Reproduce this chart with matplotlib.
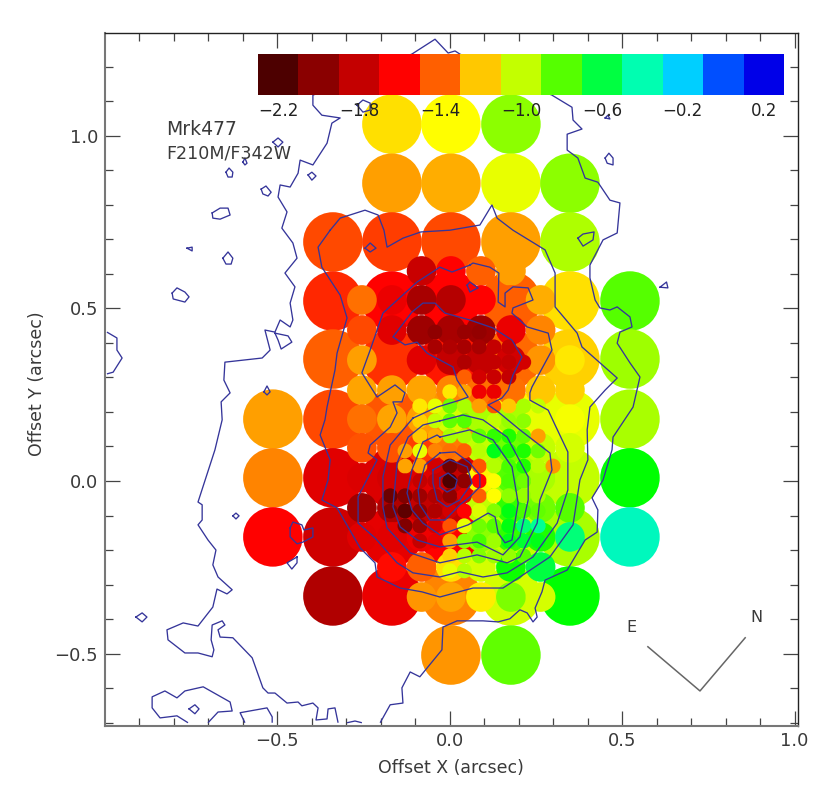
import numpy as np
import matplotlib
matplotlib.use("Agg")
import matplotlib.pyplot as plt
from matplotlib.colors import LinearSegmentedColormap, Normalize
from matplotlib.ticker import MultipleLocator

n = np.nan
cbar_levels = [-2.2, -2.0, -1.8, -1.6, -1.4, -1.2, -1.0, -0.8, -0.6, -0.4, -0.2, 0.0, 0.2]
cbar_colors = ['#4d0000', '#8b0000', '#c40000', '#ff0000', '#ff6000', '#ffc800', '#c4ff00',
               '#55ff00', '#00ff40', '#00ffb0', '#00d0ff', '#0050ff', '#0000e8']
cbar_labels = ['\u22122.2', '\u22121.8', '\u22121.4', '\u22121.0', '\u22120.6', '\u22120.2', '0.2']
extra_levels = [-1.08, -0.68]
extra_colors = ['#ffff00', '#00ff00']

big_x = [-0.512, -0.338, -0.167, 0.004, 0.178, 0.349, 0.523]
big_y = [1.033, 0.862, 0.692, 0.521, 0.353, 0.179, 0.009, -0.162, -0.333, -0.504]
big_vals = [
    [n, n, -1.15, -1.08, -0.90, n, n],
    [n, n, -1.28, -1.25, -1.05, -0.90, n],
    [n, -1.45, -1.47, -1.45, -1.28, -0.96, n],
    [n, -1.52, -1.60, -1.60, -1.40, -1.15, -0.80],
    [n, -1.40, -1.50, -1.55, -1.38, -1.18, -0.93],
    [-1.28, -1.45, -1.42, -1.30, -1.10, -1.05, -0.95],
    [-1.33, -1.70, -1.72, -1.70, -0.95, -1.00, -0.68],
    [-1.60, -1.76, -1.68, -1.60, -1.00, -0.95, -0.37],
    [n, -1.87, -1.67, -1.33, -1.02, -0.68, n],
    [n, n, n, -1.30, -0.82, n, n],
]

mid_x = [-0.254, -0.167, -0.081, 0.004, 0.091, 0.178, 0.264, 0.349]
mid_y = [0.608, 0.524, 0.437, 0.350, 0.263, 0.179, 0.096, 0.009, -0.078, -0.162, -0.249, -0.336]
mid_vals = [
    [n, n, -1.78, -1.60, -1.40, -1.28, n, n],
    [-1.37, -1.67, -1.90, -1.85, -1.60, -1.40, -1.25, n],
    [-1.45, -1.70, -1.93, -1.90, -1.93, -1.67, -1.33, n],
    [-1.28, -1.50, -1.70, -1.80, -1.80, -1.75, -1.30, -1.13],
    [-1.27, -1.28, -1.27, -1.33, -1.37, -1.37, -1.20, -1.18],
    [-1.37, -1.27, -1.28, -1.02, -0.95, -0.95, -1.05, -1.07],
    [-1.43, -1.43, -1.47, -1.35, -1.00, -0.85, -1.00, -1.02],
    [-1.72, -1.75, -1.70, -1.80, -1.10, -0.80, -0.95, -1.00],
    [-1.93, -1.87, -1.80, -1.80, -1.00, -0.75, -0.85, -0.80],
    [-1.70, -1.70, -1.65, -1.60, -0.90, -0.75, -0.72, -0.50],
    [n, -1.58, -1.40, -1.15, -1.02, -0.70, -0.60, n],
    [n, n, -1.30, -1.27, -1.12, -0.87, -1.02, n],
]

small_x = [-0.172, -0.129, -0.086, -0.042, 0.001, 0.043, 0.086, 0.129, 0.172, 0.215, 0.257, 0.300]
small_y = [0.431, 0.388, 0.344, 0.301, 0.258, 0.217, 0.174, 0.130, 0.087, 0.043, 0.0,
           -0.043, -0.087, -0.130, -0.174, -0.217, -0.260]
small_vals = [
    [n, n, n, -1.98, -1.90, -1.95, -1.97, n, n, n, n, n],
    [n, n, n, -1.90, -1.87, -1.90, -1.90, -1.80, -1.80, n, n, n],
    [n, n, n, n, -1.80, -1.87, -1.80, -1.80, -1.80, -1.75, n, n],
    [n, n, n, n, n, -1.40, -1.75, -1.78, -1.80, n, n, n],
    [n, n, n, n, -1.13, -1.27, -1.65, -1.67, n, n, n, n],
    [n, n, -1.13, -1.05, -0.85, -0.95, -1.28, -1.43, -1.20, -0.95, -1.00, n],
    [n, n, -1.18, -1.00, -0.82, -0.80, -0.95, -1.00, -0.92, -0.90, n, n],
    [n, n, -1.20, -1.25, -0.95, -0.95, -0.82, -0.75, -0.72, -0.82, -1.28, n],
    [n, -1.28, -1.05, -1.33, -1.37, -1.40, -0.98, -0.65, -0.72, -0.72, -0.85, n],
    [n, -1.27, -1.28, -1.75, -2.08, -1.98, -1.42, -0.97, -0.78, -0.72, -0.98, -1.30],
    [n, -1.75, -1.80, -1.80, -2.20, -1.98, -1.60, -1.08, -0.78, -0.85, -0.95, n],
    [-2.10, -2.03, -1.93, -1.87, -1.98, -1.70, -1.40, -1.08, -0.90, -0.92, -0.95, n],
    [-2.03, -2.14, -1.98, -1.87, -1.75, -1.60, -1.03, -0.88, -0.66, -0.78, -0.82, n],
    [n, -2.03, -1.93, -1.75, -1.43, -1.05, -0.85, -0.80, -0.66, -0.50, -0.45, n],
    [n, n, -1.80, -1.68, -1.28, -0.88, -0.78, -0.93, -0.65, -0.62, -0.65, n],
    [n, n, n, n, -1.18, -0.98, -0.88, -0.93, -0.92, -0.80, n, n],
    [n, n, n, n, -1.05, -0.97, n, n, n, n, n, n],
]

closed_contours = [
    [(-0.028,0.127),(0.059,0.148),(0.126,0.119),(0.181,0.041),(0.199,-0.064),(0.181,-0.171),(0.161,-0.179),(0.141,-0.151),(0.132,-0.104),(0.112,-0.093),(0.054,-0.127),(-0.028,-0.156),(-0.077,-0.122),(-0.109,-0.084),(-0.123,-0.035),(-0.109,0.032),(-0.077,0.113),(-0.036,0.133)],
    [(-0.028,0.081),(0.016,0.084),(0.059,0.052),(0.088,0.017),(0.088,-0.017),(0.059,-0.046),(0.030,-0.069),(-0.013,-0.113),(-0.057,-0.113),(-0.086,-0.069),(-0.091,-0.026),(-0.071,0.046)],
    [(-0.048,0.032),(0.001,0.061),(0.051,0.041),(0.065,-0.006),(0.030,-0.055),(-0.007,-0.075),(-0.036,-0.055),(-0.048,-0.006)],
    [(-0.028,0.009),(-0.004,0.023),(0.022,0.003),(0.016,-0.020),(-0.007,-0.032),(-0.028,-0.017)],
    [(-0.028,0.174),(0.039,0.191),(0.097,0.177),(0.167,0.127),(0.228,0.012),(0.228,-0.055),(0.204,-0.162),(0.155,-0.214),(0.080,-0.177),(-0.028,-0.191),(-0.094,-0.171),(-0.143,-0.133),(-0.164,-0.075),(-0.152,0.052),(-0.120,0.127),(-0.077,0.162)],
    [(-0.106,0.182),(-0.036,0.214),(0.030,0.234),(0.054,0.243),(0.022,0.292),(0.010,0.330),(-0.065,0.370),(-0.094,0.402),(-0.129,0.394),(-0.164,0.417),(-0.109,0.489),(-0.077,0.515),(-0.042,0.515),(-0.013,0.486),(0.059,0.466),(0.126,0.443),(0.181,0.408),(0.210,0.359),(0.184,0.307),(0.170,0.263),(0.152,0.240),(0.112,0.220),(0.141,0.200),(0.204,0.148),(0.291,0.081),(0.297,0.032),(0.262,-0.055),(0.254,-0.122),(0.204,-0.220),(0.167,-0.237),(0.080,-0.214),(-0.028,-0.237),(-0.114,-0.208),(-0.181,-0.136),(-0.193,-0.075),(-0.193,0.012),(-0.172,0.104)],
    [(0.059,0.625),(0.007,0.605),(-0.028,0.619),(-0.094,0.576),(-0.193,0.486),(-0.230,0.379),(-0.254,0.313),(-0.210,0.243),(-0.158,0.278),(-0.129,0.255),(-0.138,0.229),(-0.164,0.229),(-0.152,0.197),(-0.172,0.156),(-0.230,0.104),(-0.236,0.081),(-0.210,0.061),(-0.265,-0.046),(-0.265,-0.122),(-0.216,-0.165),(-0.152,-0.237),(-0.106,-0.266),(-0.028,-0.278),(0.030,-0.263),(0.097,-0.278),(0.167,-0.266),(0.242,-0.220),(0.312,-0.122),(0.343,-0.026),(0.343,0.084),(0.306,0.162),(0.286,0.205),(0.233,0.234),(0.233,0.255),(0.239,0.272),(0.297,0.379),(0.286,0.428),(0.225,0.446),(0.181,0.486),(0.184,0.501),(0.242,0.524),(0.228,0.559),(0.184,0.562),(0.161,0.544),(0.161,0.504),(0.141,0.518),(0.143,0.602),(0.117,0.619),(0.068,0.631)],
    [(-0.346,0.726),(-0.317,0.761),(-0.245,0.784),(-0.207,0.770),(-0.190,0.726),(-0.181,0.677),(-0.135,0.703),(-0.083,0.721),(0.001,0.726),(0.088,0.741),(0.123,0.799),(0.138,0.761),(0.184,0.726),(0.277,0.669),(0.306,0.602),(0.306,0.504),(0.370,0.428),(0.384,0.388),(0.486,0.298),(0.451,0.263),(0.407,0.214),(0.399,0.148),(0.401,0.061),(0.378,0.003),(0.358,-0.127),(0.291,-0.220),(0.204,-0.278),(0.155,-0.310),(0.068,-0.310),(-0.028,-0.336),(-0.080,-0.321),(-0.143,-0.310),(-0.210,-0.278),(-0.216,-0.237),(-0.259,-0.194),(-0.326,-0.078),(-0.370,-0.055),(-0.352,0.003),(-0.346,0.061),(-0.375,0.133),(-0.361,0.177),(-0.355,0.214),(-0.332,0.321),(-0.326,0.370),(-0.297,0.472),(-0.317,0.538),(-0.370,0.619),(-0.381,0.677)],
    [(0.372,0.703),(0.387,0.715),(0.419,0.721),(0.416,0.698),(0.387,0.680)],
    [(-0.245,0.674),(-0.230,0.689),(-0.213,0.674),(-0.230,0.663)],
    [(0.610,0.561),(0.629,0.576),(0.633,0.559)],
    [(0.051,0.567),(0.059,0.576),(0.083,0.559),(0.059,0.547)],
    [(0.451,0.935),(0.462,0.949),(0.474,0.935),(0.474,0.915),(0.457,0.920)],
    [(0.451,1.051),(0.459,1.059),(0.465,1.048)],
    [(-0.512,0.981),(-0.497,0.993),(-0.483,0.981),(-0.497,0.967)],
    [(-0.599,0.923),(-0.593,0.935),(-0.587,0.920),(-0.593,0.915)],
    [(-0.648,0.894),(-0.639,0.906),(-0.628,0.894),(-0.630,0.880),(-0.642,0.880)],
    [(-0.546,0.845),(-0.532,0.854),(-0.517,0.836),(-0.526,0.825),(-0.541,0.831)],
    [(-0.410,0.886),(-0.399,0.894),(-0.387,0.883),(-0.399,0.871)],
    [(-0.268,1.088),(-0.251,1.103),(-0.230,1.094),(-0.230,1.074),(-0.251,1.068)],
    [(-0.688,0.776),(-0.665,0.790),(-0.642,0.790),(-0.636,0.770),(-0.665,0.758),(-0.686,0.761)],
    [(-0.761,0.674),(-0.746,0.677),(-0.746,0.666)],
    [(-0.657,0.645),(-0.642,0.663),(-0.628,0.645),(-0.633,0.628),(-0.648,0.628)],
    [(-0.804,0.544),(-0.790,0.559),(-0.767,0.547),(-0.755,0.533),(-0.767,0.518),(-0.801,0.527)],
    [(-0.506,0.428),(-0.468,0.420),(-0.457,0.402),(-0.488,0.382),(-0.497,0.408)],
    [(-0.538,0.258),(-0.529,0.275),(-0.520,0.258),(-0.529,0.249)],
    [(-0.628,-0.101),(-0.619,-0.093),(-0.610,-0.101),(-0.619,-0.110)],
    [(-0.909,-0.394),(-0.891,-0.382),(-0.877,-0.394),(-0.891,-0.408)],
    [(-0.755,-0.660),(-0.738,-0.648),(-0.726,-0.660),(-0.738,-0.674)],
    [(-0.462,-0.136),(-0.454,-0.119),(-0.428,-0.127),(-0.422,-0.142),(-0.396,-0.136),(-0.396,-0.162),(-0.425,-0.177),(-0.442,-0.182),(-0.462,-0.162)],
    [(-0.442,-0.220),(-0.442,-0.237),(-0.457,-0.255),(-0.471,-0.237)],
]

open_contours = [
    [(0.297,1.117),(0.030,1.236),(0.016,1.245),(-0.004,1.239),(-0.042,1.279),(-0.109,1.236),(-0.396,1.117),(-0.396,1.088),(-0.370,1.059),(-0.317,1.051),(-0.341,1.036),(-0.355,0.978),(-0.396,0.915),(-0.433,0.929),(-0.439,0.891),(-0.462,0.851),(-0.491,0.857),(-0.497,0.822),(-0.471,0.779),(-0.486,0.732),(-0.454,0.689),(-0.442,0.645),(-0.477,0.602),(-0.448,0.562),(-0.462,0.515),(-0.454,0.466),(-0.462,0.446),(-0.491,0.466),(-0.506,0.431),(-0.535,0.437),(-0.520,0.379),(-0.543,0.356),(-0.651,0.344),(-0.654,0.292),(-0.636,0.255),(-0.662,0.229),(-0.659,0.177),(-0.680,0.090),(-0.729,-0.061),(-0.717,-0.069),(-0.717,-0.113),(-0.729,-0.127),(-0.700,-0.171),(-0.677,-0.200),(-0.686,-0.243),(-0.671,-0.278),(-0.630,-0.315),(-0.645,-0.327),(-0.674,-0.313),(-0.686,-0.365),(-0.729,-0.420),(-0.772,-0.411),(-0.819,-0.431),(-0.816,-0.460),(-0.767,-0.498),(-0.729,-0.498),(-0.688,-0.509),(-0.683,-0.489),(-0.691,-0.460),(-0.688,-0.417),(-0.659,-0.405),(-0.651,-0.417),(-0.671,-0.431),(-0.665,-0.452),(-0.628,-0.454),(-0.572,-0.512),(-0.541,-0.599),(-0.526,-0.614),(-0.506,-0.614),(-0.471,-0.643),(-0.439,-0.640),(-0.428,-0.651),(-0.396,-0.643),(-0.381,-0.657),(-0.387,-0.692),(-0.355,-0.689),(-0.352,-0.660),(-0.332,-0.657),(-0.323,-0.700)],
    [(-0.201,-0.700),(-0.172,-0.648),(-0.135,-0.643),(-0.138,-0.599),(-0.114,-0.553),(-0.086,-0.567),(-0.022,-0.489),(-0.019,-0.423),(0.022,-0.405),(0.097,-0.405),(0.141,-0.408),(0.175,-0.399),(0.204,-0.373),(0.225,-0.382),(0.242,-0.408),(0.254,-0.394),(0.248,-0.368),(0.268,-0.321),(0.277,-0.287),(0.341,-0.258),(0.393,-0.171),(0.428,-0.148),(0.430,-0.084),(0.413,-0.049),(0.445,0.003),(0.471,0.090),(0.474,0.127),(0.532,0.214),(0.552,0.301),(0.523,0.342),(0.486,0.399),(0.494,0.431),(0.529,0.446),(0.523,0.475),(0.486,0.504),(0.465,0.495),(0.436,0.501),(0.422,0.524),(0.407,0.588),(0.407,0.625),(0.445,0.698),(0.486,0.718),(0.494,0.805),(0.465,0.813),(0.430,0.865),(0.393,0.877),(0.372,0.935),(0.341,0.958),(0.341,1.004),(0.384,1.019),(0.358,1.045),(0.355,1.082),(0.297,1.117)],
    [(-0.758,-0.700),(-0.790,-0.680),(-0.839,-0.686),(-0.862,-0.657),(-0.862,-0.625),(-0.825,-0.608),(-0.790,-0.628),(-0.767,-0.608),(-0.714,-0.596),(-0.636,-0.640),(-0.630,-0.666),(-0.671,-0.669),(-0.700,-0.700)],
    [(-0.593,-0.700),(-0.607,-0.671),(-0.529,-0.657),(-0.514,-0.683),(-0.514,-0.700)],
    [(-0.297,-0.700),(-0.274,-0.695),(-0.254,-0.700)],
    [(-0.993,0.431),(-0.964,0.414),(-0.964,0.379),(-0.949,0.356),(-0.975,0.315),(-0.993,0.310)],
]

compass_x = [0.575, 0.726, 0.857]
compass_y = [-0.480, -0.608, -0.454]

plt.rcParams['font.family'] = ['DejaVu Sans']
W, H = 830, 793
fig = plt.figure(figsize=(W / 100, H / 100), dpi=100)
ax = fig.add_axes([105 / W, 1 - 725.5 / H, 693 / W, 692.5 / H])
ax.set_xlim(-0.9986, 1.0101)
ax.set_ylim(-0.708, 1.297)

nodes = sorted(zip(cbar_levels + extra_levels, cbar_colors + extra_colors))
positions = np.clip([(v + 2.2) / 2.4 for v, _ in nodes], 0, 1)
cmap = LinearSegmentedColormap.from_list('idl', list(zip(positions, [c for _, c in nodes])), N=512)
norm = Normalize(-2.2, 0.2)


def tier(xs, ys, vals, px_diam, z):
    X, Y = np.meshgrid(xs, ys)
    ax.scatter(X.ravel(), Y.ravel(), c=np.array(vals).ravel(), cmap=cmap, norm=norm,
               s=(px_diam * 0.72) ** 2, linewidths=0, zorder=z)


tier(big_x, big_y, big_vals, 59.5, 2)
tier(mid_x, mid_y, mid_vals, 29.7, 3)
tier(small_x, small_y, small_vals, 15, 4)

line_col = '#35359a'
for pts in closed_contours:
    xs, ys = zip(*(pts + pts[:1]))
    ax.plot(xs, ys, color=line_col, lw=0.95, zorder=5)
for pts in open_contours:
    xs, ys = zip(*pts)
    ax.plot(xs, ys, color=line_col, lw=0.95, zorder=5, solid_capstyle='butt')

ax.plot(compass_x, compass_y, color='#666666', lw=1.1, zorder=5)
txt = '#3a3a3a'
ax.text(0.526, -0.425, 'E', ha='center', va='center', fontsize=11.5, color=txt)
ax.text(0.891, -0.394, 'N', ha='center', va='center', fontsize=11.5, color=txt)
ax.text(-0.82, 1.018, 'Mrk477', ha='left', va='center', fontsize=13.5, color=txt, zorder=8)
ax.text(-0.82, 0.948, 'F210M/F342W', ha='left', va='center', fontsize=12.6, color=txt, zorder=8)

ax.xaxis.set_major_locator(MultipleLocator(0.5))
ax.xaxis.set_minor_locator(MultipleLocator(0.1))
ax.yaxis.set_major_locator(MultipleLocator(0.5))
ax.yaxis.set_minor_locator(MultipleLocator(0.1))
ax.tick_params(which='major', direction='in', length=10.5, width=0.9, top=True, right=True,
               color='#444444', labelcolor=txt, labelsize=13, pad=5)
ax.tick_params(which='minor', direction='in', length=5.5, width=0.9, top=True, right=True,
               color='#444444')
for side, lw, c in (('left', 1.5, '#777777'), ('bottom', 1.5, '#777777'),
                    ('top', 1.0, '#222222'), ('right', 1.0, '#222222')):
    ax.spines[side].set_linewidth(lw)
    ax.spines[side].set_color(c)

fig.text(451 / W, 1 - 768 / H, 'Offset X (arcsec)', ha='center', va='center', fontsize=12.5, color=txt)
fig.text(37 / W, 1 - 384 / H, 'Offset Y (arcsec)', ha='center', va='center', rotation=90,
         fontsize=12.5, color=txt)

cax = fig.add_axes([258 / W, 1 - 95 / H, 526 / W, 41 / H], zorder=6)
edges = np.array(cbar_levels + [0.4]) - 0.1
cax.pcolormesh(edges, [0, 1], np.array([cbar_levels]), cmap=cmap, norm=norm)
cax.set_yticks([])
cax.set_xticks(cbar_levels[::2], cbar_labels)
cax.tick_params(axis='x', length=0, pad=5, labelsize=12, labelcolor='#222222')
cax.patch.set_alpha(0)
for s in cax.spines.values():
    s.set_visible(False)

fig.savefig('out.png', dpi=100)
